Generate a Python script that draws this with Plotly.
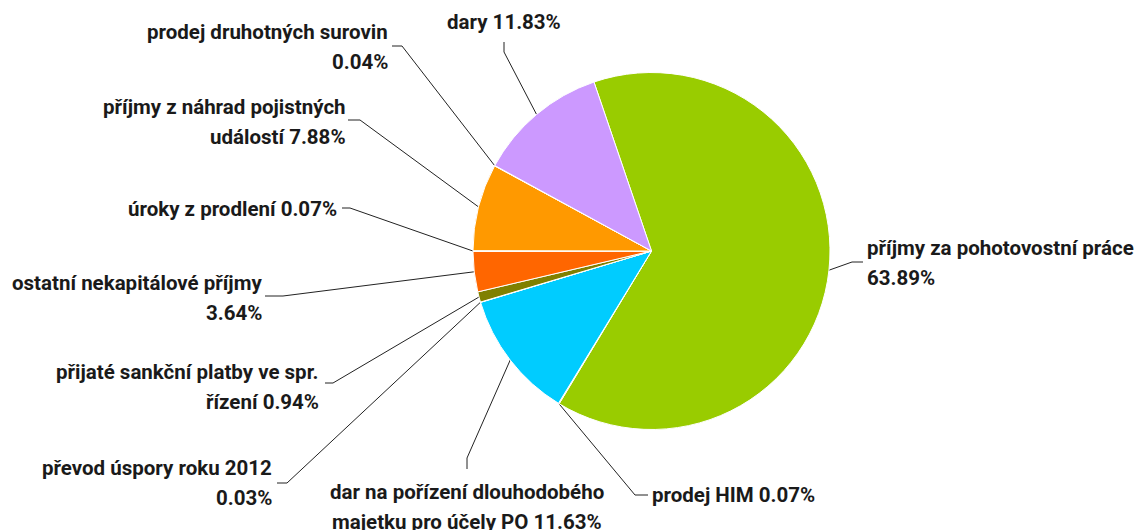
import math
import plotly.graph_objects as go

# ---- data ----
labels = [
    "příjmy za pohotovostní práce",
    "prodej HIM",
    "dar na pořízení dlouhodobého majetku pro účely PO",
    "převod úspory roku 2012",
    "přijaté sankční platby ve spr. řízení",
    "ostatní nekapitálové příjmy",
    "úroky z prodlení",
    "příjmy z náhrad pojistných událostí",
    "prodej druhotných surovin",
    "dary",
]
values = [63.89, 0.07, 11.63, 0.03, 0.94, 3.64, 0.07, 7.88, 0.04, 11.83]
colors = ["#99CC00", "#FF8080", "#00CCFF", "#CCCCFF", "#808000",
          "#FF6600", "#FFCC99", "#FF9900", "#FFFF99", "#CC99FF"]
# number of words on the first line of each wrapped label (None = one line)
first_line_words = [4, None, 4, 4, 5, 3, None, 4, 3, None]

# ---- layout (window pixels; the page body adds an 8px offset) ----
OFF = 8
W, H = 1147 - OFF, 530 - OFF
CX, CY, R = 651.5 - OFF, 251.0 - OFF, 178.5
ROTATION = -18.8
LINE_GAP = 30
FONT = dict(family="Roboto", size=20.5, color="#1a1a1a", weight=700)

label_layout = [
    dict(x=866, anchor="left", y=248, path=[(852, 262), (863, 262)]),
    dict(x=651, anchor="left", y=495, path=[(635, 495), (648, 495)]),
    dict(x=467, anchor="center", y=492, path=[(467, 458), (467, 469)]),
    dict(x=273, anchor="right", y=468, path=[(287, 483), (277, 483)]),
    dict(x=320, anchor="right", y=372, path=[(333, 383), (325, 383)]),
    dict(x=263, anchor="right", y=283, path=[(283, 296), (265, 296)]),
    dict(x=338, anchor="right", y=209, path=[(350, 208), (342, 208)]),
    dict(x=347, anchor="right", y=107, path=[(360, 120), (348, 120)]),
    dict(x=389, anchor="right", y=32, path=[(402, 46), (392, 46)]),
    dict(x=504, anchor="center", y=22, path=[(504, 52), (504, 42)]),
]

fig = go.Figure()

# hidden pixel-space axes for leader lines and labels
fig.update_layout(
    xaxis=dict(range=[0, W], visible=False, fixedrange=True, domain=[0, 1]),
    yaxis=dict(range=[H, 0], visible=False, fixedrange=True, domain=[0, 1]),
)

total = sum(values)
cum = 0.0
annotations = []
for i, (lab, v) in enumerate(zip(labels, values)):
    mid = ROTATION + (cum + v / 2) / total * 360.0
    cum += v
    th = math.radians(mid)
    ex = CX + R * math.sin(th)
    ey = CY - R * math.cos(th)
    lay = label_layout[i]
    xs = [ex] + [p[0] - OFF for p in lay["path"]]
    ys = [ey] + [p[1] - OFF for p in lay["path"]]
    fig.add_trace(go.Scatter(x=xs, y=ys, mode="lines",
                             line=dict(color="#222222", width=1),
                             hoverinfo="skip", showlegend=False))
    full = f"{lab} {v:.2f}%"
    words = full.split(" ")
    n = first_line_words[i]
    lines = [full] if n is None else [" ".join(words[:n]), " ".join(words[n:])]
    for k, ln in enumerate(lines):
        annotations.append(dict(
            x=lay["x"] - OFF, y=lay["y"] - OFF + k * LINE_GAP, xref="x", yref="y",
            text=ln, showarrow=False, xanchor=lay["anchor"], yanchor="middle",
            align=lay["anchor"], font=FONT, borderpad=0))

fig.add_trace(go.Pie(
    labels=labels, values=values, sort=False, direction="clockwise",
    rotation=ROTATION, textinfo="none", hoverinfo="label+percent",
    marker=dict(colors=colors, line=dict(color="#FFFFFF", width=1)),
    domain=dict(x=[(CX - R) / W, (CX + R) / W],
                y=[1 - (CY + R) / H, 1 - (CY - R) / H]),
    showlegend=False,
))

fig.update_layout(
    width=W, height=H,
    margin=dict(l=0, r=0, t=0, b=0),
    paper_bgcolor="white", plot_bgcolor="white",
    annotations=annotations,
    showlegend=False,
)

fig.write_html("out.html")
